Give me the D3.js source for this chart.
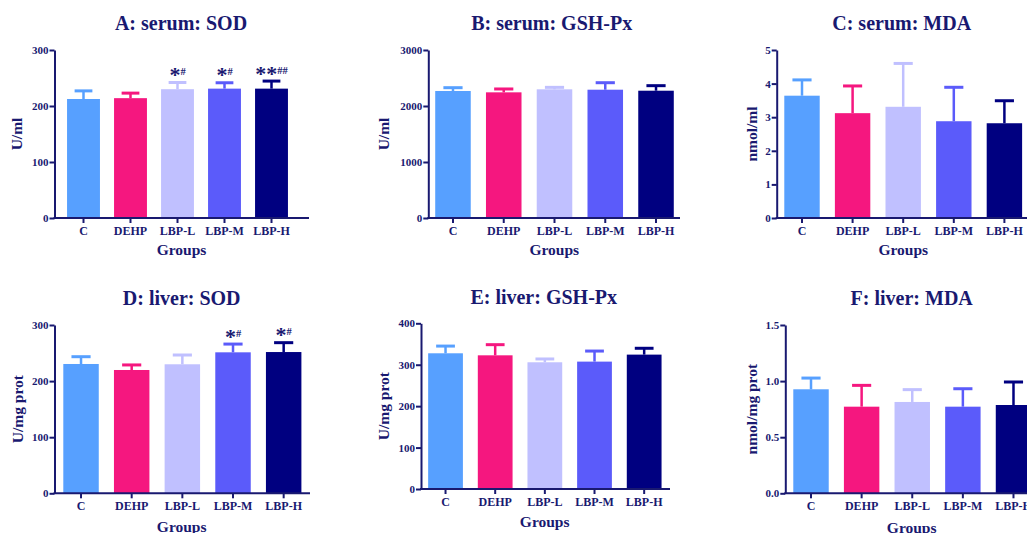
<!DOCTYPE html>
<html lang="en">
  <head>
    <meta charset="UTF-8" />
    <title>Oxidative stress markers by group</title>
    <script src="https://d3js.org/d3.v7.min.js"></script>
    <style>
      html,
      body {
        margin: 0;
        padding: 0;
        background-color: #ffffff;
      }
      text {
        font-family: "Liberation Serif", "Times New Roman", serif;
        font-weight: bold;
        fill: #191970;
      }
      .axis path,
      .axis line {
        stroke: #191970;
        stroke-width: 2;
      }
    </style>
  </head>
  <body>
    <svg id="chart" width="1027" height="533"></svg>

    <script>
      // Groups shared by every panel
      const groups = ["C", "DEHP", "LBP-L", "LBP-M", "LBP-H"];

      // Means and SD
      const serumSOD = [212.5, 214, 230, 231, 231];
      const serumSODErr = [14.5, 9, 12, 10.5, 13.5];
      const serumGSH = [2268, 2244, 2298, 2291, 2273];
      const serumGSHErr = [59, 60, 35, 125, 90];
      const serumMDA = [3.64, 3.12, 3.31, 2.88, 2.82];
      const serumMDAErr = [0.47, 0.81, 1.29, 1.01, 0.67];
      const liverSOD = [230.5, 219.8, 230, 251.3, 251.8];
      const liverSODErr = [13, 9, 16.5, 14.7, 16.7];
      const liverGSH = [327.6, 322.7, 305.9, 307.5, 324.4];
      const liverGSHErr = [17.4, 25.7, 8, 25.5, 15.3];
      const liverMDA = [0.927, 0.772, 0.814, 0.772, 0.787];
      const liverMDAErr = [0.1, 0.19, 0.11, 0.16, 0.205];

      // Significance marks (* vs control, # vs DEHP)
      const serumSODStars = ["", "", "*", "*", "**"];
      const serumSODHash = ["", "", "#", "#", "##"];
      const liverSODStars = ["", "", "", "*", "*"];
      const liverSODHash = ["", "", "", "#", "#"];

      // Y tick values
      const ticks300 = [0, 100, 200, 300];
      const ticks3000 = [0, 1000, 2000, 3000];
      const ticks5 = [0, 1, 2, 3, 4, 5];
      const ticks400 = [0, 100, 200, 300, 400];
      const ticks15 = [0, 0.5, 1.0, 1.5];

      const colors = ["#57a0ff", "#f5177f", "#c0c0ff", "#5b5bfa", "#000080"];

      const panels = [
        {
          title: "A: serum: SOD", ylabel: "U/ml", values: serumSOD, errors: serumSODErr,
          stars: serumSODStars, hashes: serumSODHash, ticks: ticks300, fmt: d3.format("d"),
          axisX: 54.5, top: 50, zero: 218, band: [60, 295], axisEnd: 309,
          titleX: 181, titleY: 29.5, yLabelX: 17, groupsX: 181.5, groupsY: 255,
        },
        {
          title: "B: serum: GSH-Px", ylabel: "U/ml", values: serumGSH, errors: serumGSHErr,
          ticks: ticks3000, fmt: d3.format("d"),
          axisX: 428.3, top: 50, zero: 218, band: [427.6, 681.4], axisEnd: 680,
          titleX: 551.7, titleY: 30, yLabelX: 384, groupsX: 554.3, groupsY: 255,
        },
        {
          title: "C: serum: MDA", ylabel: "nmol/ml", values: serumMDA, errors: serumMDAErr,
          ticks: ticks5, fmt: d3.format("d"),
          axisX: 776.7, top: 50, zero: 218, band: [776.7, 1029.7], axisEnd: 1027,
          titleX: 901.7, titleY: 30, yLabelX: 752, groupsX: 903.3, groupsY: 255,
        },
        {
          title: "D: liver: SOD", ylabel: "U/mg prot", values: liverSOD, errors: liverSODErr,
          stars: liverSODStars, hashes: liverSODHash, ticks: ticks300, fmt: d3.format("d"),
          axisX: 54.5, top: 325, zero: 493.3, band: [55.7, 309], axisEnd: 310,
          titleX: 181.7, titleY: 305, yLabelX: 17.5, groupsX: 181.7, groupsY: 532,
        },
        {
          title: "E: liver: GSH-Px", ylabel: "U/mg prot", values: liverGSH, errors: liverGSHErr,
          ticks: ticks400, fmt: d3.format("d"),
          axisX: 421, top: 323.3, zero: 489, band: [420.7, 669], axisEnd: 670,
          titleX: 543.7, titleY: 304.3, yLabelX: 384, groupsX: 544.7, groupsY: 527,
        },
        {
          title: "F: liver: MDA", ylabel: "nmol/mg prot", values: liverMDA, errors: liverMDAErr,
          ticks: ticks15, fmt: d3.format(".1f"),
          axisX: 785.3, top: 325, zero: 493.3, band: [785.7, 1038.8], axisEnd: 1030,
          titleX: 911.7, titleY: 305, yLabelX: 752, groupsX: 911.7, groupsY: 533,
        },
      ];

      const svg = d3.select("#chart");

      panels.forEach((p) => {
        const g = svg.append("g");

        const y = d3
          .scaleLinear()
          .domain([0, p.ticks[p.ticks.length - 1]])
          .range([p.zero, p.top]);

        const x = d3
          .scaleBand()
          .domain(groups)
          .range(p.band)
          .paddingInner(0.3)
          .paddingOuter(0.15);

        const data = groups.map((k, i) => ({
          group: k,
          value: p.values[i],
          err: p.errors[i],
          color: colors[i],
          stars: p.stars ? p.stars[i] : "",
          hash: p.hashes ? p.hashes[i] : "",
        }));

        // Bars
        g.selectAll(".bar")
          .data(data)
          .enter()
          .append("rect")
          .attr("class", "bar")
          .attr("x", (d) => x(d.group))
          .attr("width", x.bandwidth())
          .attr("y", (d) => y(d.value))
          .attr("height", (d) => y(0) - y(d.value))
          .attr("fill", (d) => d.color);

        // Upper error bars
        const capW = x.bandwidth() * 0.27;
        const cx = (d) => x(d.group) + x.bandwidth() / 2;

        g.selectAll(".err")
          .data(data)
          .enter()
          .append("line")
          .attr("x1", cx)
          .attr("x2", cx)
          .attr("y1", (d) => y(d.value))
          .attr("y2", (d) => y(d.value + d.err))
          .attr("stroke", (d) => d.color)
          .attr("stroke-width", 2.5);

        g.selectAll(".cap")
          .data(data)
          .enter()
          .append("line")
          .attr("x1", (d) => cx(d) - capW)
          .attr("x2", (d) => cx(d) + capW)
          .attr("y1", (d) => y(d.value + d.err))
          .attr("y2", (d) => y(d.value + d.err))
          .attr("stroke", (d) => d.color)
          .attr("stroke-width", 3);

        // Significance marks
        const sig = g
          .selectAll(".sig")
          .data(data.filter((d) => d.stars))
          .enter()
          .append("text")
          .attr("x", cx)
          .attr("y", (d) => y(d.value + d.err) - 7.5)
          .attr("text-anchor", "middle");
        sig.append("tspan").style("font-size", "22px").attr("dy", 7).text((d) => d.stars);
        sig.append("tspan").style("font-size", "10.5px").attr("dy", -7).text((d) => d.hash);

        // Y axis
        const yAxis = g
          .append("g")
          .attr("class", "axis")
          .attr("transform", `translate(${p.axisX},0)`)
          .call(d3.axisLeft(y).tickValues(p.ticks).tickFormat(p.fmt).tickSize(5).tickSizeOuter(0).tickPadding(1));
        yAxis.selectAll("text").style("font-size", "11px").style("font-family", null);

        // X axis
        const xAxis = g
          .append("g")
          .attr("class", "axis")
          .attr("transform", `translate(0,${p.zero})`)
          .call(d3.axisBottom(x).tickSize(5).tickSizeOuter(0).tickPadding(3));
        xAxis.select(".domain").remove();
        xAxis
          .append("line")
          .attr("x1", p.axisX - 1)
          .attr("x2", p.axisEnd)
          .attr("y1", 0)
          .attr("y2", 0);
        xAxis.selectAll("text").style("font-size", "12px").style("font-family", null);

        // Title
        g.append("text")
          .attr("x", p.titleX)
          .attr("y", p.titleY)
          .attr("text-anchor", "middle")
          .style("font-size", "20px")
          .text(p.title);

        // Axis titles
        g.append("text")
          .attr("transform", `translate(${p.yLabelX},${(p.top + p.zero) / 2}) rotate(-90)`)
          .attr("dy", "0.35em")
          .attr("text-anchor", "middle")
          .style("font-size", "15.5px")
          .text(p.ylabel);

        g.append("text")
          .attr("x", p.groupsX)
          .attr("y", p.groupsY)
          .attr("text-anchor", "middle")
          .style("font-size", "15.5px")
          .text("Groups");
      });
    </script>
  </body>
</html>
